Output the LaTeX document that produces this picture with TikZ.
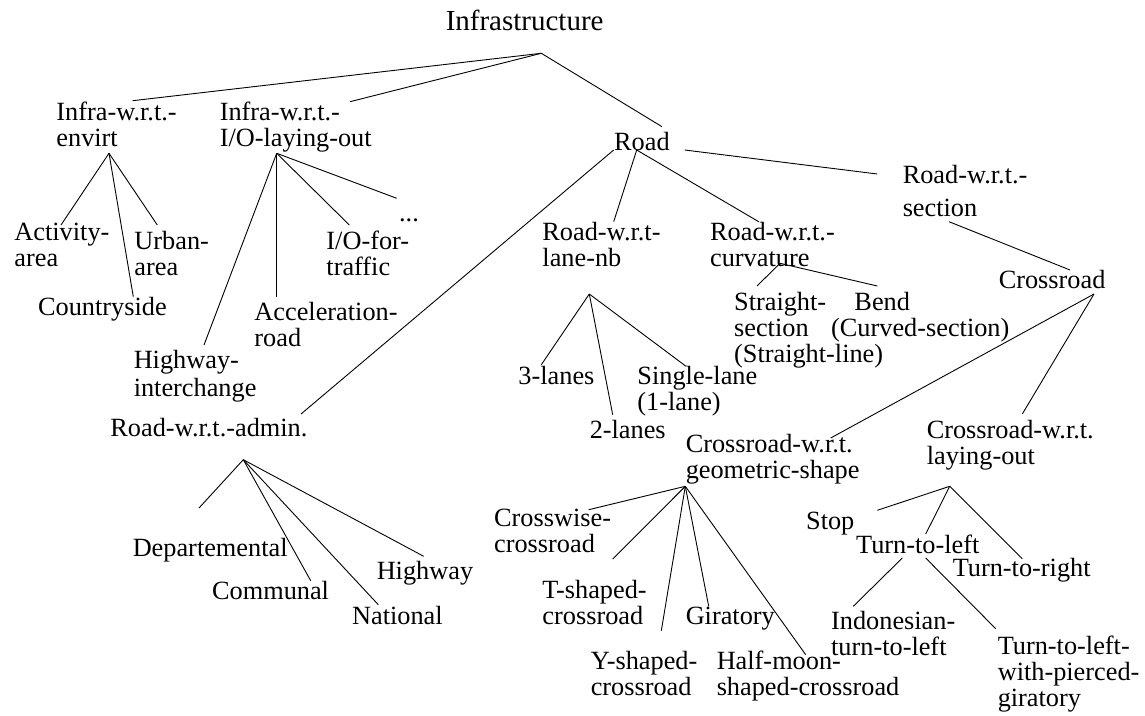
\documentclass[tikz,border=0pt]{standalone}
\usepackage{fontspec}
\setmainfont{Liberation Serif}
\begin{document}
\begin{tikzpicture}[x=1pt,y=-1pt,line width=0.9pt]
\tikzstyle{every node}=[inner sep=0pt, anchor=base west, align=left, font=\fontsize{26.3}{26}\selectfont];
\useasboundingbox (0,0) rectangle (1145,715);

  % base west = baseline of the last line
  \node (infra) at (445.3,30) [font=\fontsize{29}{30}\selectfont] {Infrastructure};
  \node (envirt) at (56,146.7) {Infra-w.r.t.-\\envirt};
  \node (iolay) at (219.3,146.7) {Infra-w.r.t.-\\I/O-laying-out};
  \node (road) at (613.7,150) {Road};
  \node (section) at (902.3,216.3) {Road-w.r.t.-\\[7pt]section};
  \node (act) at (14,266.7) {Activity-\\area};
  \node (urban) at (134,275.3) {Urban-\\area};
  \node (cside) at (37.7,315) {Countryside};
  \node (iotraf) at (326,275.3) {I/O-for-\\traffic};
  \node (dots) at (398.7,221.7) {...};
  \node (accel) at (254,346.7) {Acceleration-\\road};
  \node (hwyint) at (133.3,396.3) {Highway-\\[2pt]interchange};
  \node (lanenb) at (542,266) {Road-w.r.t-\\lane-nb};
  \node (curv) at (709.7,266) {Road-w.r.t.-\\curvature};
  \node (crossroad) at (998.3,288.3) {Crossroad};
  \node (straight) at (733.7,362) {Straight-\\section\\(Straight-line)};
  \node (bend) at (830.7,336) {\hspace*{23.3pt}Bend\\(Curved-section)};
  \node (three) at (518,384.7) {3-lanes};
  \node (single) at (637,410.7) {Single-lane\\(1-lane)};
  \node (two) at (589.3,438) {2-lanes};
  \node (admin) at (110,436.3) {Road-w.r.t.-admin.};
  \node (geom) at (685.3,478) {Crossroad-w.r.t.\\geometric-shape};
  \node (layout) at (926.3,464) {Crossroad-w.r.t.\\laying-out};
  \node (depart) at (132.3,556.3) {Departemental};
  \node (communal) at (211.7,599.7) {Communal};
  \node (national) at (351.7,624.7) {National};
  \node (highway) at (376.3,579.7) {Highway};
  \node (crosswise) at (493.7,552.3) {Crosswise-\\crossroad};
  \node (tshaped) at (542,624) {T-shaped-\\crossroad};
  \node (giratory) at (685.3,624.7) {Giratory};
  \node (yshaped) at (590.3,695.7) {Y-shaped-\\crossroad};
  \node (halfmoon) at (716.3,695.7) {Half-moon-\\shaped-crossroad};
  \node (stop) at (805.7,529.7) {Stop};
  \node (tleft) at (855.7,553) {Turn-to-left};
  \node (tright) at (952.3,576.3) {Turn-to-right};
  \node (indo) at (830.7,655.7) {Indonesian-\\turn-to-left};
  \node (pierced) at (997.3,706.7) {Turn-to-left-\\with-pierced-\\giratory};

  \coordinate (infra-j) at (541.3,53.3);
  \coordinate (envirt-j) at (109,153.3);
  \coordinate (io-j) at (276.7,153.3);
  \coordinate (road-l) at (613.7,150);
  \coordinate (road-m) at (636.7,150);
  \coordinate (road-r) at (684.7,150);
  \coordinate (section-j) at (949,221.7);
  \coordinate (curv-j) at (780,263.3);
  \coordinate (crossroad-j) at (1094,294);
  \coordinate (lanenb-j) at (589.3,294);
  \coordinate (admin-j) at (243.3,459.7);
  \coordinate (geom-j) at (685.3,486.3);
  \coordinate (layout-j) at (949.7,486.3);
  \coordinate (tleft-l) at (902.3,558);
  \coordinate (tleft-r) at (925.7,558);

  \foreach \from/\to/\dx/\dy in {infra-j/envirt/76.7/46, infra-j/iolay/130.7/45, infra-j/road/48.3/23.3,
      envirt-j/act/47/41.7, envirt-j/cside/95.6/18.3, envirt-j/urban/23.3/50.3,
      io-j/hwyint/70.7/51.3, io-j/accel/22.7/50, io-j/iotraf/23.3/50.3, io-j/dots/-2/23.4,
      road-l/admin/191/22.3, road-m/lanenb/71.7/44.3, road-m/curv/49/44.3, road-r/section/-25/42.3,
      section-j/crossroad/71.7/18.3, curv-j/straight/23.3/76, curv-j/bend/46.6/50,
      lanenb-j/three/23.3/20, lanenb-j/two/23.4/23.3, lanenb-j/single/49/44.4,
      crossroad-j/geom/145.4/40, crossroad-j/layout/96/50,
      admin-j/depart/66.7/48.3, admin-j/communal/99/19, admin-j/national/26.6/20, admin-j/highway/47.4/23.4,
      geom-j/crosswise/95/42.6, geom-j/tshaped/70.7/65, geom-j/yshaped/71/65, geom-j/giratory/23.4/18.4, geom-j/halfmoon/89.4/41,
      layout-j/stop/71.6/19.4, layout-j/tleft/70/19, layout-j/tright/70/17.6,
      tleft-l/indo/22.6/49.4, tleft-r/pierced/-1.6/78}
\draw (\from) -- ([xshift=\dx,yshift=\dy]\to.base west);

\end{tikzpicture}
\end{document}
